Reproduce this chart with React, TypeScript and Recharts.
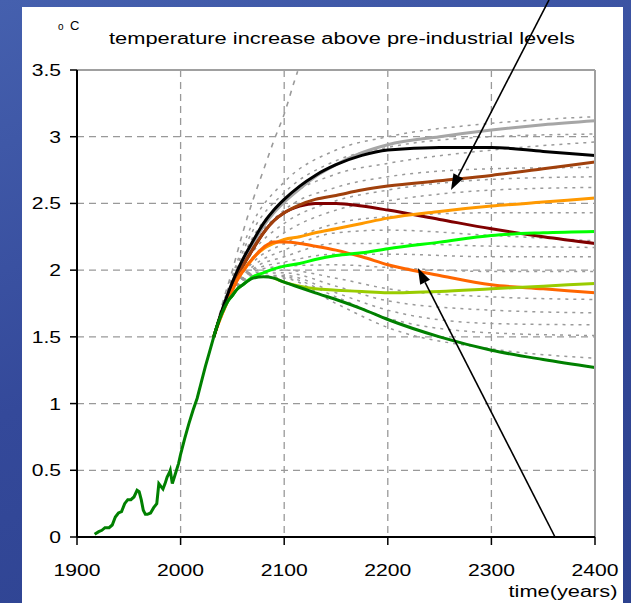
import React from 'react';
import { LineChart, Line, XAxis, YAxis, CartesianGrid, ReferenceLine } from 'recharts';

// ---------- axis ticks ----------
const xTicks = [1900, 2000, 2100, 2200, 2300, 2400];
const yTicks = [0, 0.5, 1, 1.5, 2, 2.5, 3, 3.5];

// ---------- observed (historical) temperature ----------
const histYears = [1917, 1921, 1924, 1927, 1931, 1934, 1937, 1940, 1943, 1946, 1949, 1952, 1955, 1958, 1960, 1962, 1964, 1966, 1968, 1971, 1974, 1977, 1979, 1981, 1983, 1985, 1987, 1989, 1990, 1992, 1994, 1996, 1998, 2000, 2004, 2008, 2012, 2016, 2020, 2024, 2028, 2032];
const histTemp = [0.02, 0.04, 0.05, 0.07, 0.07, 0.09, 0.15, 0.18, 0.19, 0.25, 0.28, 0.28, 0.3, 0.35, 0.34, 0.28, 0.2, 0.17, 0.17, 0.18, 0.22, 0.25, 0.4, 0.38, 0.36, 0.4, 0.45, 0.48, 0.5, 0.4, 0.45, 0.5, 0.55, 0.62, 0.74, 0.85, 0.95, 1.04, 1.16, 1.28, 1.39, 1.5];

// ---------- highlighted scenarios ----------
const scenYears = [2032, 2036, 2040, 2045, 2050, 2055, 2060, 2070, 2080, 2090, 2100, 2115, 2130, 2150, 2175, 2200, 2250, 2300, 2350, 2400];
const grayTemp = [1.5, 1.6, 1.69, 1.8, 1.9, 1.98, 2.06, 2.2, 2.33, 2.43, 2.51, 2.61, 2.7, 2.79, 2.88, 2.94, 3.0, 3.05, 3.09, 3.12];
const blackTemp = [1.5, 1.6, 1.7, 1.81, 1.91, 2.0, 2.08, 2.22, 2.35, 2.45, 2.53, 2.63, 2.71, 2.79, 2.86, 2.9, 2.92, 2.92, 2.89, 2.86];
const brownTemp = [1.5, 1.6, 1.69, 1.79, 1.88, 1.96, 2.03, 2.16, 2.28, 2.37, 2.43, 2.49, 2.53, 2.56, 2.6, 2.63, 2.67, 2.71, 2.76, 2.81];
const darkRedTemp = [1.5, 1.6, 1.69, 1.79, 1.88, 1.96, 2.03, 2.16, 2.28, 2.37, 2.43, 2.48, 2.5, 2.5, 2.48, 2.45, 2.38, 2.31, 2.25, 2.2];
const orangeTemp = [1.5, 1.59, 1.67, 1.76, 1.85, 1.93, 1.99, 2.09, 2.16, 2.2, 2.23, 2.25, 2.28, 2.31, 2.35, 2.39, 2.44, 2.48, 2.51, 2.54];
const darkOrangeTemp = [1.5, 1.59, 1.67, 1.76, 1.85, 1.93, 1.99, 2.09, 2.17, 2.21, 2.21, 2.2, 2.18, 2.15, 2.1, 2.04, 1.96, 1.89, 1.86, 1.83];
const limeTemp = [1.5, 1.6, 1.68, 1.76, 1.81, 1.86, 1.89, 1.95, 1.98, 2.01, 2.03, 2.05, 2.08, 2.11, 2.13, 2.16, 2.21, 2.26, 2.28, 2.29];
const darkGreenTemp = [1.5, 1.6, 1.68, 1.76, 1.81, 1.86, 1.89, 1.94, 1.95, 1.94, 1.91, 1.87, 1.83, 1.78, 1.71, 1.63, 1.5, 1.4, 1.33, 1.27];
const yellowGreenYears = [2090, 2100, 2115, 2130, 2150, 2175, 2200, 2250, 2300, 2350, 2400];
const yellowGreenTemp = [1.94, 1.91, 1.88, 1.86, 1.85, 1.84, 1.83, 1.84, 1.86, 1.88, 1.9];

// ---------- steep dashed scenario ----------
const dashedYears = [2032, 2040, 2050, 2060, 2070, 2080, 2090, 2100, 2110, 2113];
const dashedTemp = [1.5, 1.74, 2.0, 2.28, 2.53, 2.75, 2.97, 3.17, 3.42, 3.49];

// ---------- dotted ensemble ----------
const ensembleYears = [2032, 2040, 2050, 2070, 2100, 2150, 2200, 2300, 2400];
const ens1 = [1.5, 1.72, 1.96, 2.36, 2.66, 2.9, 3.0, 3.1, 3.15];
const ens2 = [1.5, 1.71, 1.94, 2.3, 2.58, 2.82, 2.92, 3.0, 3.02];
const ens3 = [1.5, 1.7, 1.92, 2.25, 2.52, 2.72, 2.8, 2.9, 2.96];
const ens4 = [1.5, 1.7, 1.9, 2.2, 2.45, 2.62, 2.7, 2.76, 2.77];
const ens5 = [1.5, 1.69, 1.88, 2.14, 2.35, 2.52, 2.6, 2.68, 2.7];
const ens6 = [1.5, 1.69, 1.87, 2.1, 2.28, 2.45, 2.52, 2.6, 2.62];
const ens7 = [1.5, 1.69, 1.86, 2.06, 2.2, 2.35, 2.4, 2.43, 2.43];
const ens8 = [1.5, 1.68, 1.85, 2.03, 2.15, 2.28, 2.3, 2.26, 2.22];
const ens9 = [1.5, 1.68, 1.84, 2.01, 2.1, 2.2, 2.2, 2.18, 2.17];
const ens10 = [1.5, 1.68, 1.84, 2.0, 2.06, 2.12, 2.12, 2.1, 2.1];
const ens11 = [1.5, 1.68, 1.83, 1.99, 2.03, 2.04, 2.02, 1.99, 1.99];
const ens12 = [1.5, 1.68, 1.83, 1.98, 2.0, 1.94, 1.86, 1.8, 1.78];
const ens13 = [1.5, 1.68, 1.82, 1.97, 1.98, 1.88, 1.77, 1.7, 1.68];
const ens14 = [1.5, 1.68, 1.82, 1.96, 1.96, 1.83, 1.7, 1.6, 1.59];
const ens15 = [1.5, 1.68, 1.82, 1.96, 1.95, 1.8, 1.64, 1.53, 1.51];
const ens16 = [1.5, 1.68, 1.81, 1.95, 1.94, 1.75, 1.57, 1.41, 1.34];
const ensembles = [ens1, ens2, ens3, ens4, ens5, ens6, ens7, ens8, ens9, ens10, ens11, ens12, ens13, ens14, ens15, ens16];

// ---------- annotation arrows (data coordinates) ----------
const arrowUpper = [{ x: 2355.6, y: 4.025 }, { x: 2261, y: 2.6 }];
const arrowLower = [{ x: 2361.4, y: 0 }, { x: 2229, y: 2.016 }];

const FONT = '"Liberation Sans", Arial, Helvetica, sans-serif';
const SX = 1.32;

const pts = (xs: number[], ys: number[]) => xs.map((x, i) => ({ x, v: ys[i] }));

const XTick = (props: any) => {
  const { x, y, payload } = props;
  return (
    <g transform={`translate(${x},${y + 29}) scale(${SX},1)`}>
      <text x={0} y={0} textAnchor="middle" fontSize={16} fontFamily={FONT} fill="#000">
        {payload.value}
      </text>
    </g>
  );
};

const YTick = (props: any) => {
  const { x, y, payload } = props;
  return (
    <g transform={`translate(${x - 7},${y + 6}) scale(${SX},1)`}>
      <text x={0} y={0} textAnchor="end" fontSize={16} fontFamily={FONT} fill="#000">
        {payload.value}
      </text>
    </g>
  );
};

const ArrowShape = (props: any) => {
  const { x1, y1, x2, y2 } = props;
  const dx = x2 - x1;
  const dy = y2 - y1;
  const len = Math.hypot(dx, dy) || 1;
  const ux = dx / len;
  const uy = dy / len;
  const hl = 16;
  const hw = 5.5;
  const bx = x2 - ux * hl;
  const by = y2 - uy * hl;
  const nx = -uy;
  const ny = ux;
  return (
    <g>
      <line x1={x1} y1={y1} x2={bx} y2={by} stroke="#000" strokeWidth={1.6} />
      <polygon
        points={`${x2},${y2} ${bx + nx * hw},${by + ny * hw} ${bx - nx * hw},${by - ny * hw}`}
        fill="#000"
      />
    </g>
  );
};

const mainLine = (key: string, data: any[], color: string, width = 3) => (
  <Line
    key={key}
    data={data}
    dataKey="v"
    type="monotone"
    stroke={color}
    strokeWidth={width}
    dot={false}
    activeDot={false}
    isAnimationActive={false}
  />
);

export default function App() {
  return (
    <div style={{ position: 'absolute', left: 0, top: 0, width: 631, height: 603, overflow: 'hidden', background: 'linear-gradient(160deg, #4560AE 0%, #34499A 50%, #2C418E 100%)' }}>
      <div style={{ position: 'absolute', left: 22, top: 7, width: 601, height: 596, background: '#fff' }} />
      <div style={{ position: 'absolute', left: 0, top: 0 }}>
        <LineChart width={631} height={603} margin={{ top: 70, right: 36, bottom: 36, left: 0 }}>
          <CartesianGrid stroke="#999" strokeWidth={1.3} strokeDasharray="7 5" />
          <XAxis
            dataKey="x"
            type="number"
            domain={[1900, 2400]}
            ticks={xTicks}
            allowDataOverflow
            height={30}
            tickSize={8}
            tickMargin={2}
            tick={XTick}
            axisLine={{ stroke: '#000', strokeWidth: 2 }}
            tickLine={{ stroke: '#000', strokeWidth: 1.5 }}
          />
          <YAxis
            type="number"
            domain={[0, 3.5]}
            ticks={yTicks}
            allowDataOverflow
            width={77}
            tickSize={7}
            tickMargin={2}
            tick={YTick}
            axisLine={{ stroke: '#000', strokeWidth: 2 }}
            tickLine={{ stroke: '#000', strokeWidth: 1.5 }}
          />
          {ensembles.map((e, i) => (
            <Line
              key={`ens${i}`}
              data={pts(ensembleYears, e)}
              dataKey="v"
              type="monotone"
              stroke="#9a9a9a"
              strokeWidth={1.5}
              strokeDasharray="3 5"
              dot={false}
              activeDot={false}
              isAnimationActive={false}
            />
          ))}
          <Line
            data={pts(dashedYears, dashedTemp)}
            dataKey="v"
            type="monotone"
            stroke="#9a9a9a"
            strokeWidth={1.6}
            strokeDasharray="5 6"
            dot={false}
            activeDot={false}
            isAnimationActive={false}
          />
          {mainLine('gray', pts(scenYears, grayTemp), '#A6A6A6')}
          {mainLine('darkred', pts(scenYears, darkRedTemp), '#800000')}
          {mainLine('brown', pts(scenYears, brownTemp), '#A0400C')}
          {mainLine('orange', pts(scenYears, orangeTemp), '#FF9900')}
          {mainLine('darkorange', pts(scenYears, darkOrangeTemp), '#FF6600')}
          {mainLine('yellowgreen', pts(yellowGreenYears, yellowGreenTemp), '#99CC00')}
          {mainLine('lime', pts(scenYears, limeTemp), '#00FF00')}
          {mainLine('black', pts(scenYears, blackTemp), '#000000')}
          {mainLine('darkgreen', pts(scenYears, darkGreenTemp), '#008000')}
          <Line
            data={pts(histYears, histTemp)}
            dataKey="v"
            type="linear"
            stroke="#008000"
            strokeWidth={3}
            dot={false}
            activeDot={false}
            isAnimationActive={false}
          />
          <ReferenceLine y={3.5} stroke="#A0A0A0" strokeWidth={2} />
          <ReferenceLine x={2400} stroke="#A0A0A0" strokeWidth={2} />
          <ReferenceLine segment={arrowUpper} ifOverflow="visible" shape={ArrowShape} />
          <ReferenceLine segment={arrowLower} ifOverflow="visible" shape={ArrowShape} />
          <text x={58} y={30} fontSize={10} fontFamily={FONT} fill="#000">o</text>
          <text x={70} y={30} fontSize={13} fontFamily={FONT} fill="#000">C</text>
          <text x={342} y={44} textAnchor="middle" fontSize={16} fontFamily={FONT} fill="#000" textLength={466} lengthAdjust="spacingAndGlyphs">
            temperature increase above pre-industrial levels
          </text>
          <text x={563} y={597} textAnchor="middle" fontSize={16} fontFamily={FONT} fill="#000" textLength={109} lengthAdjust="spacingAndGlyphs">
            time(years)
          </text>
        </LineChart>
      </div>
    </div>
  );
}
